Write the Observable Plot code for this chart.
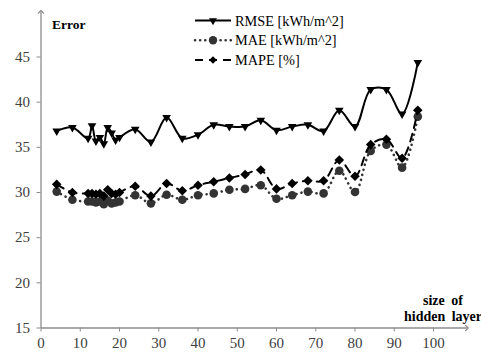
<!DOCTYPE html>
<html>
<head>
<meta charset="utf-8">
<script src="https://cdn.jsdelivr.net/npm/d3@7"></script>
<script src="https://cdn.jsdelivr.net/npm/@observablehq/plot@0.6"></script>
<style>
  html, body { margin: 0; padding: 0; background: #fff; }
  #chart svg { display: block; }
  #chart svg, #chart svg text { font-family: "Liberation Serif", "Tinos", "DejaVu Serif", serif !important; }
</style>
</head>
<body>
<div id="chart"></div>
<script>
// Hidden layer sizes tested
const sizes = [4, 8, 12, 13, 14, 15, 16, 17, 18, 19, 20, 24, 28, 32, 36, 40, 44, 48, 52, 56, 60, 64, 68, 72, 76, 80, 84, 88, 92, 96];
// Error measures per size
const rmse = [36.8, 37.2, 36.0, 37.4, 35.7, 36.1, 35.4, 37.2, 36.6, 35.8, 36.1, 37.0, 35.6, 38.3, 36.0, 36.4, 37.5, 37.3, 37.3, 38.0, 36.9, 37.3, 37.5, 36.8, 39.1, 37.3, 41.4, 41.4, 38.7, 44.4];
const mae  = [30.1, 29.2, 29.0, 29.0, 28.9, 29.0, 28.7, 29.1, 28.8, 28.9, 29.0, 29.7, 28.8, 29.75, 29.2, 29.7, 29.9, 30.3, 30.4, 30.8, 29.3, 29.7, 30.1, 29.9, 32.4, 30.05, 34.6, 35.3, 32.75, 38.4];
const mape = [30.9, 30.0, 29.9, 29.9, 29.8, 29.9, 29.6, 30.3, 29.9, 29.8, 30.0, 30.7, 29.6, 31.0, 30.2, 30.8, 31.2, 31.6, 32.0, 32.5, 30.4, 31.0, 31.3, 31.3, 33.6, 31.8, 35.3, 35.9, 33.8, 39.1];

const xTicks = [0, 10, 20, 30, 40, 50, 60, 70, 80, 90, 100];
const yTicks = [15, 20, 25, 30, 35, 40, 45];
const seriesNames = ["RMSE [kWh/m^2]", "MAE [kWh/m^2]", "MAPE [%]"];

const rows = sizes.map((s, i) => ({size: s, rmse: rmse[i], mae: mae[i], mape: mape[i]}));

const axisColor = "#8c8c8c";
const labelColor = "#404040";
const serif = "Liberation Serif, Tinos, DejaVu Serif, serif";

const chart = Plot.plot({
  width: 481,
  height: 356,
  marginLeft: 40.5, marginRight: 48, marginTop: 56.5, marginBottom: 28.5,
  x: {domain: [0, 100]},
  y: {domain: [15, 45]},
  style: {fontFamily: serif, fontSize: "15px", color: labelColor, background: "#fff", overflow: "visible"},
  marks: [
    Plot.axisY({ticks: yTicks, tickSize: 4, tickPadding: 7, stroke: axisColor, label: null, fill: labelColor, fontSize: 15}),
    Plot.axisX({ticks: xTicks, tickSize: 4, tickPadding: 5, stroke: axisColor, label: null, fill: labelColor, fontSize: 15}),
    // axis lines with open arrowheads
    Plot.link([0], {x1: 0, y1: 15, x2: 0, y2: 50, stroke: axisColor, strokeWidth: 1.3, markerEnd: "arrow"}),
    Plot.link([0], {x1: 0, y1: 15, x2: 108.5, y2: 15, stroke: axisColor, strokeWidth: 1.3, markerEnd: "arrow"}),
    // MAE: dotted line with round markers
    Plot.line(rows, {x: "size", y: "mae", curve: "catmull-rom", stroke: "#333", strokeWidth: 2.6, strokeDasharray: "0.1 5", strokeLinecap: "round"}),
    Plot.dot(rows, {x: "size", y: "mae", r: 4.3, fill: "#333", stroke: "none", symbol: "circle"}),
    // MAPE: dashed line with diamond markers
    Plot.line(rows, {x: "size", y: "mape", curve: "catmull-rom", stroke: "#000", strokeWidth: 2, strokeDasharray: "8 6"}),
    Plot.dot(rows, {x: "size", y: "mape", r: 4.3, fill: "#000", stroke: "none", symbol: "diamond2"}),
    // RMSE: solid line with small triangle markers
    Plot.line(rows, {x: "size", y: "rmse", curve: "catmull-rom", stroke: "#000", strokeWidth: 2}),
    Plot.dot(rows, {x: "size", y: "rmse", r: 3.2, fill: "#000", stroke: "none", symbol: "triangle", rotate: 180})
  ]
});

document.getElementById("chart").appendChild(chart);

// axis titles and legend
const svg = d3.select(chart);

svg.append("text").attr("x", 52).attr("y", 29).attr("text-anchor", "start")
  .attr("font-size", 13.5).attr("font-weight", "bold").attr("fill", "#000")
  .text("Error");

const xt = svg.append("text").attr("font-size", 14).attr("font-weight", "bold")
  .attr("fill", "#000").attr("text-anchor", "middle").attr("word-spacing", 3);
xt.append("tspan").attr("x", 443).attr("y", 305).text("size of");
xt.append("tspan").attr("x", 443).attr("y", 321).text("hidden layer");

const legend = svg.append("g").attr("font-size", 14.3).attr("fill", "#000")
  .attr("text-anchor", "start");
const legendStyles = [
  {dash: null, width: 2, color: "#000", sym: d3.symbolTriangle, size: 28, rot: 180},
  {dash: "0.1 5", width: 2.6, color: "#333", sym: d3.symbolCircle, size: 55, rot: 0},
  {dash: "8 6", width: 2, color: "#000", sym: d3.symbolSquare, size: 28, rot: 45}
];
seriesNames.forEach((name, i) => {
  const st = legendStyles[i];
  const cy = 20.5 + i * 19.8;
  const g = legend.append("g").attr("transform", `translate(0,${cy})`);
  g.append("line").attr("x1", 195).attr("x2", 231).attr("y1", 0).attr("y2", 0)
    .attr("stroke", st.color).attr("stroke-width", st.width)
    .attr("stroke-dasharray", st.dash).attr("stroke-linecap", st.dash === "0.1 5" ? "round" : "butt");
  g.append("path").attr("d", d3.symbol(st.sym, st.size)())
    .attr("transform", `translate(213,0) rotate(${st.rot})`).attr("fill", st.color);
  g.append("text").attr("x", 235).attr("y", 5).text(name);
});
</script>
</body>
</html>
